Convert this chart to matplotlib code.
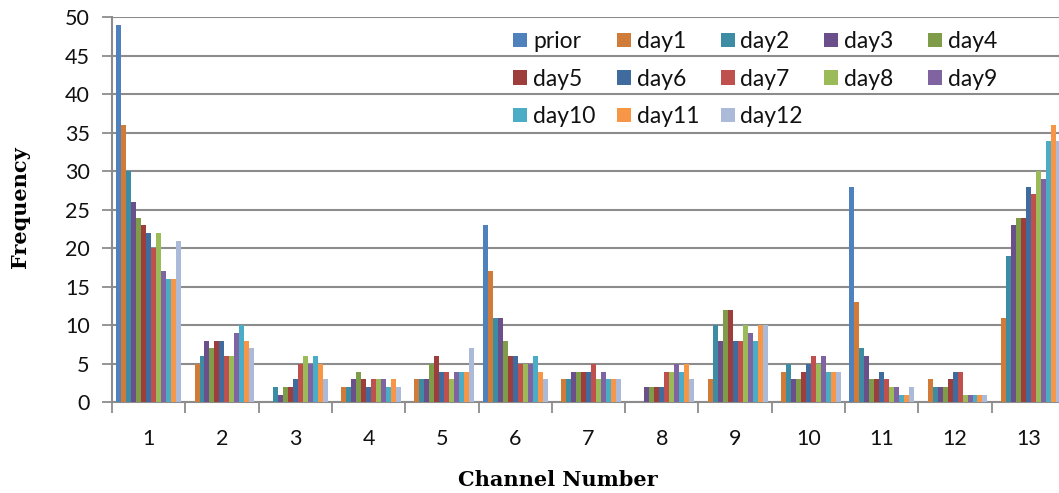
import numpy as np
import matplotlib
matplotlib.use("Agg")
import matplotlib.pyplot as plt

# Channel categories and per-series frequencies
channels = [str(i) for i in range(1, 14)]
series_names = ["prior", "day1", "day2", "day3", "day4", "day5", "day6",
                "day7", "day8", "day9", "day10", "day11", "day12"]

prior = [49, 0, 0, 0, 0, 23, 0, 0, 0, 0, 28, 0, 0]
day1 = [36, 5, 0, 2, 3, 17, 3, 0, 3, 4, 13, 3, 11]
day2 = [30, 6, 2, 2, 3, 11, 3, 0, 10, 5, 7, 2, 19]
day3 = [26, 8, 1, 3, 3, 11, 4, 2, 8, 3, 6, 2, 23]
day4 = [24, 7, 2, 4, 5, 8, 4, 2, 12, 3, 3, 2, 24]
day5 = [23, 8, 2, 3, 6, 6, 4, 2, 12, 4, 3, 3, 24]
day6 = [22, 8, 3, 2, 4, 6, 4, 2, 8, 5, 4, 4, 28]
day7 = [20, 6, 5, 3, 4, 5, 5, 4, 8, 6, 3, 4, 27]
day8 = [22, 6, 6, 3, 3, 5, 3, 4, 10, 5, 2, 1, 30]
day9 = [17, 9, 5, 3, 4, 5, 4, 5, 9, 6, 2, 1, 29]
day10 = [16, 10, 6, 2, 4, 6, 3, 4, 8, 4, 1, 1, 34]
day11 = [16, 8, 5, 3, 4, 4, 3, 5, 10, 4, 1, 1, 36]
day12 = [21, 7, 3, 2, 7, 3, 3, 3, 10, 4, 2, 1, 34]

series_values = [prior, day1, day2, day3, day4, day5, day6,
                 day7, day8, day9, day10, day11, day12]

colors = ["#4F81BD", "#D07C38", "#3C8DA3", "#6A4F8B", "#7F9C48", "#9E3E3C",
          "#3F6B9F", "#C0504D", "#9BBB59", "#8064A2", "#4BACC6", "#F79646",
          "#AABAD8"]

W, H = 1059, 493
fig = plt.figure(figsize=(W / 100, H / 100), dpi=100)

left_px, right_px = 112, 1065
top_px, bottom_px = 17.3, 402.3
ax = fig.add_axes([left_px / W, 1 - bottom_px / H,
                   (right_px - left_px) / W, (bottom_px - top_px) / H])

n_series = len(series_values)
gap = 0.115
bar_w = (1 - gap) / n_series
x = np.arange(1, len(channels) + 1)

handles = []
for i, (name, vals, col) in enumerate(zip(series_names, series_values, colors)):
    offs = -0.5 + gap / 2 + bar_w * (i + 0.5)
    b = ax.bar(x + offs, vals, width=bar_w, color=col, label=name,
               edgecolor="none", zorder=3)
    handles.append(b)

grid_col = "#8c8c8c"
ax.set_xlim(0.5, len(channels) + 0.5)
ax.set_ylim(0, 50)
ax.set_yticks(np.arange(0, 51, 5))
ax.yaxis.grid(True, color=grid_col, linewidth=1.5, zorder=0)
ax.set_axisbelow(True)

# category boundary ticks on the x axis, labels centred in each category
ax.set_xticks(np.arange(0.5, len(channels) + 1.5, 1.0))
ax.set_xticklabels([])
ax.set_xticks(x, minor=True)
ax.set_xticklabels(channels, minor=True)
ax.tick_params(axis="x", which="major", length=8, width=1.3, color=grid_col,
               direction="out")
ax.tick_params(axis="x", which="minor", length=0, pad=19)
ax.tick_params(axis="y", length=7, width=1.3, color=grid_col, pad=9)

for lab in ax.get_xticklabels(minor=True) + ax.get_yticklabels():
    lab.set_fontfamily("Lato")
    lab.set_fontsize(15.5)
    lab.set_color("#111111")

for side in ["top", "right"]:
    ax.spines[side].set_visible(False)
for side in ["left", "bottom"]:
    ax.spines[side].set_color(grid_col)
    ax.spines[side].set_linewidth(1.5)

title_font = {"family": "DejaVu Serif", "weight": "bold", "size": 15}
fig.text(20 / W, 1 - 207 / H, "Frequency", rotation=90, ha="center",
         va="center", **title_font)
fig.text(558 / W, 1 - 480 / H, "Channel Number", ha="center", va="center",
         **title_font)

# legend: 5 evenly spaced columns, entries filled row by row (3 rows)
n_cols = 5
col_x0, col_step = 513, 103.75
for c in range(n_cols):
    idx = list(range(c, n_series, n_cols))
    leg = fig.legend([handles[i] for i in idx], [series_names[i] for i in idx],
                     ncol=1, frameon=False, loc="upper left",
                     bbox_to_anchor=((col_x0 + c * col_step) / W, 1 - 31 / H),
                     bbox_transform=fig.transFigure,
                     prop={"family": "Lato", "size": 16.5},
                     handlelength=0.62, handleheight=0.62, handletextpad=0.25,
                     labelspacing=0.72, borderpad=0, borderaxespad=0)
    for t in leg.get_texts():
        t.set_color("#111111")

fig.savefig("out.png", dpi=100)
